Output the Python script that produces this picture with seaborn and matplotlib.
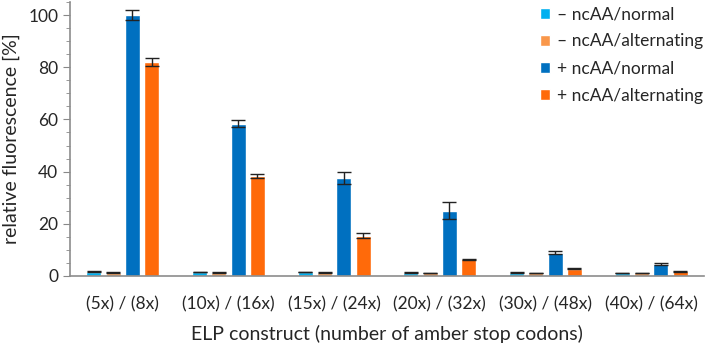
import numpy as np
import pandas as pd
import matplotlib
matplotlib.use('Agg')
import matplotlib.pyplot as plt
from matplotlib.ticker import MultipleLocator
import seaborn as sns

constructs = ['(5x) / (8x)', '(10x) / (16x)', '(15x) / (24x)',
              '(20x) / (32x)', '(30x) / (48x)', '(40x) / (64x)']
series = ['– ncAA/normal', '– ncAA/alternating', '+ ncAA/normal', '+ ncAA/alternating']

minus_normal = [1.6, 1.5, 1.5, 1.3, 1.3, 1.2]
minus_normal_err = [0.2, 0.15, 0.15, 0.15, 0.15, 0.1]
minus_alt = [1.2, 1.3, 1.3, 1.2, 1.2, 1.1]
minus_alt_err = [0.2, 0.15, 0.15, 0.1, 0.1, 0.1]
plus_normal = [100.0, 58.3, 37.5, 25.0, 9.0, 4.6]
plus_normal_err = [1.8, 1.3, 2.2, 3.2, 0.5, 0.3]
plus_alt = [82.0, 38.2, 15.5, 6.5, 2.8, 1.8]
plus_alt_err = [1.7, 0.8, 1.0, 0.2, 0.2, 0.2]

colors = ['#00B0F0', '#F9974A', '#0070C0', '#FF6A0A']

vals = [minus_normal, minus_alt, plus_normal, plus_alt]
errs = [minus_normal_err, minus_alt_err, plus_normal_err, plus_alt_err]
rows = []
for s, v, e in zip(series, vals, errs):
    for c, vi, ei in zip(constructs, v, e):
        rows.append({'construct': c, 'series': s, 'value': vi, 'err': ei})
df = pd.DataFrame(rows)

sns.set_style('white')
plt.rcParams['font.family'] = ['Lato', 'DejaVu Sans']

fig = plt.figure(figsize=(7.06, 3.45), dpi=100)
ax = fig.add_axes([70 / 706, 1 - 276 / 345, 634 / 706, 274 / 345])

sns.barplot(data=df, x='construct', y='value', hue='series', order=constructs,
            hue_order=series, palette=colors, width=0.73, gap=0.22,
            errorbar=None, saturation=1, ax=ax, legend=True)

# error bars (SD) on top of each bar
for i, s in enumerate(series):
    cont = ax.containers[i]
    sub = df[df['series'] == s].set_index('construct').loc[constructs]
    xs = [p.get_x() + p.get_width() / 2 for p in cont.patches]
    ax.errorbar(xs, sub['value'].values, yerr=sub['err'].values, fmt='none',
                ecolor='#222222', elinewidth=1, capsize=5, capthick=1)

ax.set_xlim(-0.5, 5.5)
ax.set_ylim(0, 105)
ax.yaxis.set_major_locator(MultipleLocator(20))
ax.yaxis.set_minor_locator(MultipleLocator(5))
ax.tick_params(axis='y', which='major', left=True, length=5, color='#888888', labelsize=12.5)
ax.tick_params(axis='y', which='minor', left=True, length=3, color='#888888')
ax.tick_params(axis='x', bottom=False, labelsize=12.5, pad=11)
for side in ['top', 'right']:
    ax.spines[side].set_visible(False)
for side in ['left', 'bottom']:
    ax.spines[side].set_color('#8c8c8c')
    ax.spines[side].set_linewidth(1.2)

ax.set_ylabel('relative fluorescence [%]', fontsize=14, labelpad=6)
ax.set_xlabel('ELP construct (number of amber stop codons)', fontsize=14, labelpad=9)

leg = ax.legend(loc='upper right', bbox_to_anchor=(1.01, 1.01), frameon=False,
                fontsize=12.5, handlelength=0.6, handleheight=0.6, handletextpad=0.4,
                labelspacing=0.65, borderaxespad=0)

fig.savefig('out.png', dpi=100)
